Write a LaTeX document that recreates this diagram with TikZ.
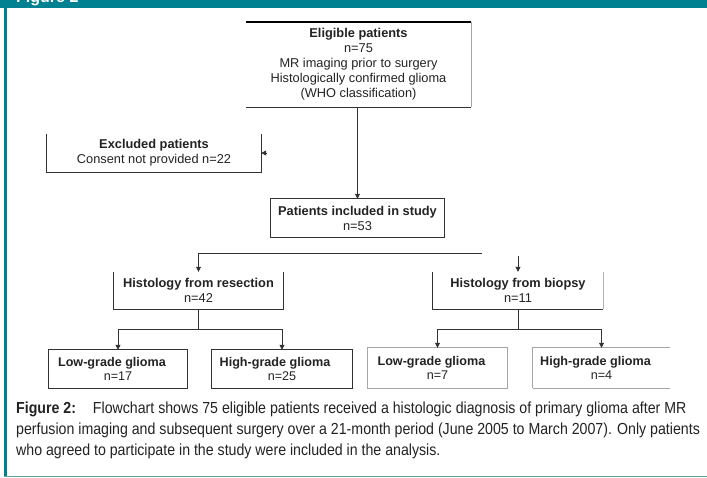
\documentclass[tikz,border=0pt]{standalone}
\usepackage{fontspec}
\setmainfont{Liberation Sans}
\newfontfamily\capfont[FakeStretch=0.885]{Liberation Sans}
\usetikzlibrary{arrows.meta}
\definecolor{tealA}{RGB}{0,129,145}
\definecolor{tealB}{RGB}{95,160,165}
\definecolor{ink}{RGB}{35,35,35}
\definecolor{edge}{RGB}{50,50,50}
\begin{document}
\begin{tikzpicture}[x=1pt,y=-1pt,
  boxtxt/.style={inner sep=0pt, align=center, text=ink,
     font=\fontsize{12.8}{15}\selectfont},
  lowtxt/.style={inner sep=0pt, align=center, text=ink,
     font=\fontsize{12.6}{13.5}\selectfont},
  ln/.style={draw=edge, line width=0.8pt},
  arr/.style={ln, -{Triangle[length=5pt,width=5pt]}},
  captxt/.style={inner sep=0pt, anchor=base west, text=ink,
     font=\capfont\fontsize{16}{16}\selectfont}]
\useasboundingbox (0,0) rectangle (707,478);
\clip (0,0) rectangle (707,478);
\fill[white] (0,0) rectangle (707,478);
% frame
\fill[tealA] (0,0) rectangle (707,8.5);
\node[anchor=base west, inner sep=0pt, text=white,
      font=\bfseries\fontsize{16}{16}\selectfont] (figtitle) at (16,2.5) {Figure 2};
\fill[tealA] (4,8) rectangle (6.5,477);
\draw[tealB, line width=1.5pt] (4,476.5) -- (707,476.5);

% nodes
\node[boxtxt, minimum width=225pt, minimum height=85pt] (elig) at (358.5,64.5)
  {\textbf{Eligible patients}\\n=75\\MR imaging prior to surgery\\Histologically confirmed glioma\\(WHO classification)};
\node[boxtxt, minimum width=214pt, minimum height=38pt] (excl) at (154,153)
  {\textbf{Excluded patients}\\Consent not provided n=22};
\node[boxtxt, minimum width=173pt, minimum height=38pt] (incl) at (357.5,218)
  {\textbf{Patients included in study}\\n=53};
\node[boxtxt, minimum width=169pt, minimum height=37pt] (resec) at (198.5,290.5)
  {\textbf{Histology from resection}\\n=42};
\node[boxtxt, minimum width=170pt, minimum height=37pt] (biop) at (518,290.5)
  {\textbf{Histology from biopsy}\\n=11};
\node[lowtxt, minimum width=138pt, minimum height=38pt] (lg1) at (118,369)
  {\textbf{Low-grade glioma}\hspace*{12pt}\\n=17};
\node[lowtxt, minimum width=140pt, minimum height=38pt] (hg1) at (282,369)
  {\textbf{High-grade glioma}\hspace*{14pt}\\n=25};
\node[lowtxt, minimum width=139pt, minimum height=40pt] (lg2) at (437.5,368)
  {\textbf{Low-grade glioma}\hspace*{12pt}\\n=7};
\node[lowtxt, minimum width=137pt, minimum height=40pt] (hg2) at (601.5,368)
  {\textbf{High-grade glioma}\hspace*{12pt}\\n=4};

% box outlines
\draw[black, line width=2pt] (elig.north west) -- (elig.north east);
\draw[gray!70, line width=0.6pt] (elig.north east) -- (elig.south east);
\draw[ln] (elig.south west) -- (elig.south east);
\draw[ln] (excl.north west) -- (excl.south west) -- (excl.south east) -- (excl.north east);
\draw[ln] (incl.south west) rectangle (incl.north east);
\draw[ln] (resec.north west) -- (resec.south west) -- (resec.south east) -- (resec.north east);
\draw[ln] (biop.north west) -- (biop.south west) -- (biop.south east);
\draw[gray!60, line width=0.6pt] (biop.south east) -- (biop.north east);
\draw[ln] (lg1.south west) rectangle (lg1.north east);
\draw[ln] (hg1.south west) rectangle (hg1.north east);
\draw[gray!70, line width=0.7pt] (lg2.south west) rectangle (lg2.north east);
\draw[gray!70, line width=0.7pt] (hg2.south west) -- (hg2.north west) -- (hg2.north east);
\draw[gray!70, line width=0.7pt] (hg2.south west) -- (hg2.south east);

% connectors
\coordinate (exsrc) at (266.5,153);
\coordinate (splitL) at (198.5,253);
\coordinate (splitR) at (482,253);
\coordinate (topR) at (518,256);
\coordinate (bus1) at (0,329);
\coordinate (bus2) at (0,329);
\draw[arr] (elig.south -| incl.north) -- (incl.north);
\draw[arr] (exsrc) -- (excl.east);
\draw[ln] (splitL) -- (splitR);
\draw[arr] (splitL) -- (resec.north);
\draw[arr] (topR) -- (biop.north);
\draw[ln] (resec.south) -- (resec.south |- bus1);
\draw[ln] (lg1.north |- bus1) -- (hg1.north |- bus1);
\draw[arr] (lg1.north |- bus1) -- (lg1.north);
\draw[arr] (hg1.north |- bus1) -- (hg1.north);
\draw[ln] (biop.south) -- (biop.south |- bus2);
\draw[ln] (lg2.north |- bus2) -- (hg2.north |- bus2);
\draw[arr] (lg2.north |- bus2) -- (lg2.north);
\draw[arr] (hg2.north |- bus2) -- (hg2.north);

% caption
\node[captxt] (cap1) at (16,413) {\textbf{Figure 2:}\hspace{17pt}Flowchart shows 75 eligible patients received a histologic diagnosis of primary glioma after MR};
\node[captxt] (cap2) at (16,434) {perfusion imaging and subsequent surgery over a 21-month period (June 2005 to March 2007). Only patients};
\node[captxt] (cap3) at (16,455) {who agreed to participate in the study were included in the analysis.};
\end{tikzpicture}
\end{document}
